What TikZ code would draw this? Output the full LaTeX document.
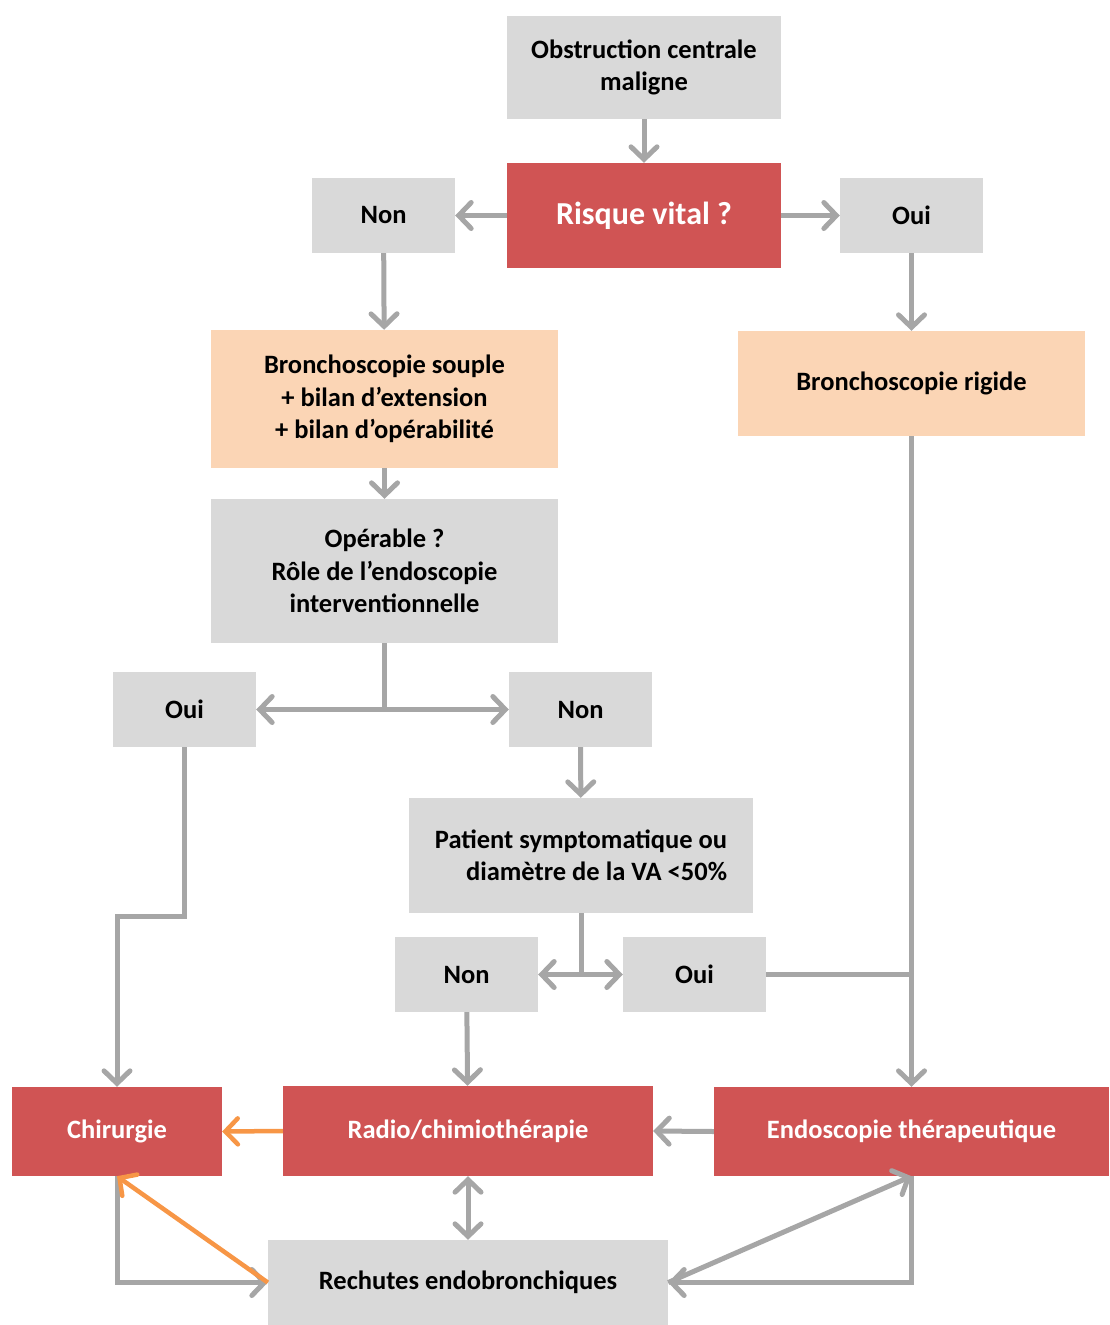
\documentclass[tikz,border=0pt]{standalone}
\usepackage{fontspec}
\setmainfont{Carlito}
\usepackage{tikz}
\usetikzlibrary{arrows.meta}
\definecolor{boxGrey}{HTML}{D9D9D9}
\definecolor{boxPeach}{HTML}{FBD5B5}
\definecolor{boxRed}{HTML}{D05454}
\definecolor{lineGrey}{HTML}{A6A6A6}
\definecolor{lineOrange}{HTML}{F79646}
\tikzset{
  box/.style={inner sep=0pt, align=center, font=\fontsize{26.5}{32.5}\selectfont\bfseries},
  greybox/.style={box, fill=boxGrey},
  peachbox/.style={box, fill=boxPeach},
  redbox/.style={box, fill=boxRed, text=white},
  barb/.tip={Straight Barb[length=12.5pt, width=26pt, line cap=round]},
  plain/.style={line width=5pt, draw=lineGrey},
  flow/.style={plain, -barb},
  flowboth/.style={plain, barb-barb},
  hot/.style={line width=4.5pt, draw=lineOrange, -barb},
}
\begin{document}
\begin{tikzpicture}[x=1pt, y=-1pt]
\useasboundingbox (0,0) rectangle (1110,1325);
% ---------- top: the question ----------
\node[greybox, minimum width=274pt, minimum height=103pt] (obs) at (644,67.5)
  {Obstruction centrale\\ maligne};
\node[redbox, minimum width=274pt, minimum height=105pt,
  font=\fontsize{32}{36}\selectfont\bfseries] (risk) at (644,215.5) {Risque vital ?};
\node[greybox, minimum width=143pt, minimum height=75pt] (non1) at (383.5,215.5) {Non};
\node[greybox, minimum width=143pt, minimum height=75pt] (oui1) at (911.5,215.5) {Oui};
% ---------- bronchoscopies ----------
\node[peachbox, minimum width=347pt, minimum height=138pt] (souple) at (384.5,399)
  {Bronchoscopie souple\\ + bilan d’extension\\ + bilan d’opérabilité};
\node[peachbox, minimum width=347pt, minimum height=105pt] (rigide) at (911.5,383.5)
  {Bronchoscopie rigide};
\node[greybox, minimum width=347pt, minimum height=144pt] (operable) at (384.5,571)
  {Opérable ?\\ Rôle de l’endoscopie\\ interventionnelle};
\node[greybox, minimum width=143pt, minimum height=75pt] (oui2) at (184.5,709.5) {Oui};
\node[greybox, minimum width=143pt, minimum height=75pt] (non2) at (580.5,709.5) {Non};
\node[greybox, minimum width=344pt, minimum height=115pt, align=right] (patient) at (581,855.5)
  {Patient symptomatique ou\\ diamètre de la VA <50\%};
\node[greybox, minimum width=143pt, minimum height=75pt] (non3) at (466.5,974.5) {Non};
\node[greybox, minimum width=143pt, minimum height=75pt] (oui3) at (694.5,974.5) {Oui};
% ---------- treatments ----------
\node[redbox, minimum width=210pt, minimum height=89pt] (chir) at (117,1131.5) {Chirurgie};
\node[redbox, minimum width=370pt, minimum height=90pt] (radio) at (468,1131) {Radio/chimiothérapie};
\node[redbox, minimum width=395pt, minimum height=89pt] (endo) at (911.5,1131.5)
  {Endoscopie thérapeutique};
\node[greybox, minimum width=400pt, minimum height=85pt] (rechutes) at (468,1282.5)
  {Rechutes endobronchiques};
% ---------- connectors ----------
\draw[flow] (obs) -- (risk);
\draw[flow] (risk) -- (non1);
\draw[flow] (risk) -- (oui1);
\draw[flow] (non1) -- (souple);
\draw[flow] (oui1) -- (rigide);
\draw[flow] (souple) -- (operable);
\draw[flow] (operable.south) |- (oui2.east);
\draw[flow] (operable.south) |- (non2.west);
\draw[flow] (non2) -- (patient);
\draw[flow] (patient.south) |- (non3.east);
\draw[flow] (patient.south) |- (oui3.west);
\draw[flow] (oui2.south) -- ++(0,169) -| (chir.north);
\draw[flow] (non3) -- (radio);
\draw[flow] (rigide.south) -- (endo.north);
\draw[plain] (oui3.east) -- (oui3.east -| endo.north);
\draw[flow] (endo.west) -- (radio.east);
\draw[flowboth] (radio) -- (rechutes);
\draw[flow] (chir.south) |- (rechutes.west);
\draw[flow] (endo.south) |- (rechutes.east);
\draw[flow] (rechutes.east) -- (endo.south);
% orange: surgery paths
\draw[hot] (radio.west) -- (chir.east);
\draw[hot] (rechutes.west) -- (chir.south);
\end{tikzpicture}
\end{document}
